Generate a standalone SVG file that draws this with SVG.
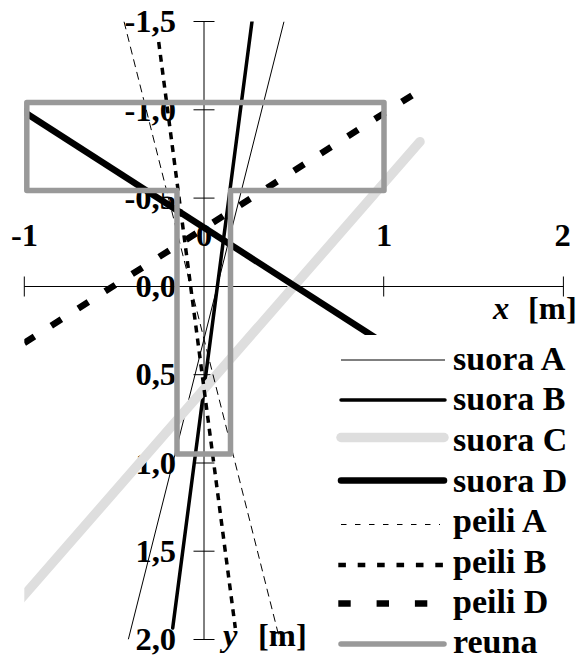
<svg xmlns="http://www.w3.org/2000/svg" width="579" height="663" viewBox="0 0 579 663">
<style>
text{font-family:"Liberation Serif","Times New Roman",serif;font-weight:bold;fill:#000}
.tk{font-size:32.5px}
.ty{text-anchor:end}
.tx{text-anchor:middle}
.lg{font-size:34px}
.ax{stroke:#000;stroke-width:1;fill:none}
.sA{stroke:#000;stroke-width:1;fill:none}
.sB{stroke:#000;stroke-width:3.5;fill:none;stroke-linecap:round}
.sC{stroke:#dedede;stroke-width:9.5;fill:none;stroke-linecap:round}
.sD{stroke:#000;stroke-width:6.5;fill:none;stroke-linecap:round}
.pA{stroke:#000;stroke-width:1;fill:none}
.pB{stroke:#000;stroke-width:3.5;fill:none}
.pD{stroke:#000;stroke-width:6.5;fill:none}
.re{stroke:#999;stroke-width:5.5;fill:none;stroke-linecap:round;stroke-linejoin:round}
</style>
<defs>
<clipPath id="plot"><rect x="24.3" y="21.5" width="539.1" height="618"/></clipPath>
<clipPath id="clipD"><rect x="24.3" y="0" width="540" height="335"/></clipPath>
</defs>
<rect width="579" height="663" fill="#fff"/>
<g id="axes" class="ax">
<line x1="204" y1="21.5" x2="204" y2="639.5"/>
<line x1="24.3" y1="286.5" x2="563.4" y2="286.5"/>
<path d="M24.3 276.5V296.5M383.7 276.5V296.5M563.4 276.5V296.5"/>
<path d="M193.5 21.5H214.5M193.5 109.8H214.5M193.5 198.1H214.5M193.5 374.7H214.5M193.5 463H214.5M193.5 551.2H214.5M193.5 639.5H214.5"/>
</g>
<g id="tick-labels" class="tk">
<text class="tx" x="24.5" y="245.5">-1</text>
<text class="tx" x="204" y="245.5">0</text>
<text class="tx" x="384" y="245.5">1</text>
<text class="tx" x="562.5" y="245.5">2</text>
<text class="ty" x="176" y="32.3">-1,5</text>
<text class="ty" x="176" y="120.5">-1,0</text>
<text class="ty" x="176" y="208.8">-0,5</text>
<text class="ty" x="176" y="297">0,0</text>
<text class="ty" x="176" y="385.4">0,5</text>
<text class="ty" x="176" y="473.7">1,0</text>
<text class="ty" x="176" y="562">1,5</text>
<text class="ty" x="176" y="650.2">2,0</text>
</g>
<g id="axis-titles" class="tk">
<text y="318.5"><tspan x="493" font-style="italic">x</tspan><tspan x="528">[m]</tspan></text>
<text y="646"><tspan x="223" font-style="italic">y</tspan><tspan x="258">[m]</tspan></text>
</g>
<g id="series" clip-path="url(#plot)">
<line id="suora-A" class="sA" x1="284" y1="21.5" x2="128.3" y2="639.5"/>
<line id="suora-B" class="sB" x1="252" y1="21.5" x2="172.7" y2="628"/>
<line id="suora-C" class="sC" x1="420" y1="141.7" x2="10" y2="611.4"/>
<g clip-path="url(#clipD)"><line id="suora-D" class="sD" style="stroke-linecap:butt" x1="20" y1="109.2" x2="375" y2="337.6"/></g>
<line id="peili-A" class="pA" stroke-dasharray="8 5" x1="124" y1="21.5" x2="279.7" y2="639.5"/>
<line id="peili-B" class="pB" stroke-dasharray="7 6" x1="158.7" y1="42" x2="235.3" y2="628"/>
<line id="peili-D" class="pD" stroke-dasharray="12 20" x1="24.3" y1="343" x2="422" y2="89"/>
</g>
<g id="reuna">
<path class="re" d="M26.8 102.5H384V190.5H230.5V454H177V190.5H26.8Z"/>
</g>
<g id="legend">
<line class="sA" x1="341" y1="360" x2="445" y2="360"/>
<text class="lg" x="453" y="369.5">suora A</text>
<line class="sB" x1="341" y1="400" x2="445" y2="400"/>
<text class="lg" x="453" y="410">suora B</text>
<line class="sC" x1="341" y1="437.5" x2="444" y2="437.5"/>
<text class="lg" x="453" y="450.5">suora C</text>
<line class="sD" x1="341" y1="480.5" x2="444" y2="480.5"/>
<text class="lg" x="453" y="491.5">suora D</text>
<line class="pA" stroke-dasharray="5.5 8.5" x1="341" y1="524.5" x2="440" y2="524.5"/>
<text class="lg" x="453" y="532">peili A</text>
<line class="pB" style="stroke-width:4.5" stroke-dasharray="7.6 11.8" x1="338.3" y1="565" x2="443.3" y2="565"/>
<text class="lg" x="453" y="572.5">peili B</text>
<line class="pD" stroke-dasharray="12.4 25.9" x1="338.3" y1="603.5" x2="427.3" y2="603.5"/>
<text class="lg" x="453" y="613">peili D</text>
<line class="re" x1="341" y1="644" x2="444" y2="644"/>
<text class="lg" x="453" y="653">reuna</text>
</g>
</svg>
